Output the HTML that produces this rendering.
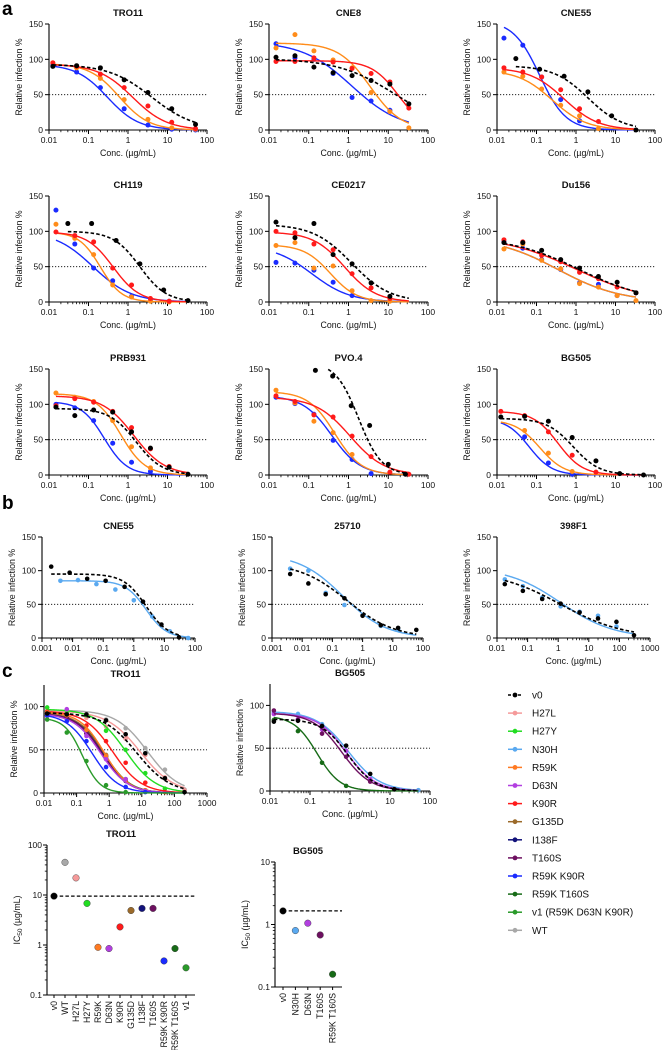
<!DOCTYPE html>
<html><head><meta charset="utf-8">
<style>
html,body{margin:0;padding:0;background:#fff;}
svg{display:block;font-family:"Liberation Sans",Arial,sans-serif;}
</style></head>
<body>
<svg id="fig" width="665" height="1050" viewBox="0 0 665 1050" xmlns="http://www.w3.org/2000/svg">
<text x="2" y="15" font-size="19" font-weight="bold">a</text>
<text x="2" y="509" font-size="19" font-weight="bold">b</text>
<text x="2" y="677" font-size="19" font-weight="bold">c</text>
</svg>
<script>
// ---------- colors ----------
const colV0="#000000",colRed="#ff1a1a",colOrange="#ff8c1a",colBlue="#1a2bff",colLtBlue="#5aa9f0";
const colWT="#a8a8a8",colH27L="#f59a9a",colH27Y="#22dd22",colR59K="#ff7a22",colD63N="#b23fe0",colK90R="#ff1a1a",colG135D="#9b6a2a",colI138F="#12127a",colT160S="#6d1060",colRKKR="#1a2bff",colRKTS="#176b17",colV1="#2a9a2a";

// ---------- panel a data ----------
const concStd=[0.015,0.045,0.135,0.41,1.23,3.7,11,33];
const tro11Conc=[0.0125,0.05,0.2,0.8,3.2,12.8,51.2];
const tro11V0=[90,91,88,71,53,30,8], tro11Red=[95,90,79,60,34,11,2], tro11Orange=[95,88,73,43,15,3,1], tro11Blue=[92,82,60,30,7,1,0];
const tro11Fits=[[93,4,0.8],[93,1.3,1],[94,0.6,1.15],[93,0.3,1.1]];
const cne8V0=[103,105,89,81,77,70,65,37], cne8Red=[97,97,102,96,87,80,68,31], cne8Orange=[116,135,112,99,88,53,26,3], cne8Blue=[122,102,100,80,46,41,28,null];
const cne8Fits=[[101,15,0.6],[98,18,1.3],[123,3.5,1.1],[125,1.2,0.7]];
const cne55V0Conc=[0.03,0.12,0.5,2,8,33];
const cne55V0=[101,86,76,54,20,0], cne55Red=[88,82,75,57,30,12,null,null], cne55Orange=[82,76,58,35,20,2,null,null], cne55Blue=[130,120,75,43,13,null,null,null];
const cne55Fits=[[91,2,1],[88,0.5,1],[85,0.25,1],[155,0.12,1.3]];
const ch119V0=[111,111,87,54,17,2], ch119Red=[99,94,85,48,24,5,1,null], ch119Orange=[110,90,67,24,7,1,0,null], ch119Blue=[130,82,48,30,8,2,1,null];
const ch119Fits=[[100,2,1.3],[99,0.42,1.3],[99,0.2,1.6],[100,0.13,0.9]];
const ce0217V0=[113,91,111,67,54,27,8,null], ce0217Red=[100,98,82,74,40,20,5,null], ce0217Orange=[80,84,48,51,16,2,1,null], ce0217Blue=[56,55,45,28,9,null,null,null];
const ce0217Fits=[[110,1.2,0.9],[99,0.8,1.1],[81,0.35,1.3],[80,0.12,0.9]];
const du156V0=[84,84,73,60,48,36,28,13], du156Red=[88,85,66,57,42,33,21,13], du156Orange=[75,82,59,47,26,21,9,2], du156Blue=[85,76,60,46,27,25,9,null];
const du156Fits=[[92,1.2,0.5],[93,1.0,0.48],[92,0.35,0.55],[92,0.35,0.55]];
const prbV0=[96,84,92,89,61,38,11,1], prbRed=[98,108,103,90,67,37,12,null], prbOrange=[116,110,104,77,40,10,null,null], prbBlue=[100,95,77,45,18,5,null,null];
const prbFits=[[94,1.6,1.3],[112,1.4,1.1],[115,0.65,1.4],[104,0.25,1.5]];
const pvoV0Conc=[0.147,0.4,1.17,3.4,10,27];
const pvoV0=[148,140,98,70,15,1], pvoRed=[112,104,85,82,55,26,4,1], pvoOrange=[120,102,76,60,29,null,null,null], pvoBlue=[110,101,86,49,22,2,null,null];
const pvoFits=[[160,1.8,1.5],[110,1.1,1.0],[118,0.45,1.3],[112,0.38,1.2]];
const bgConc=[0.0125,0.05,0.2,0.8,3.2,12.8,51.2];
const bgV0=[82,83,76,53,20,2,0], bgRed=[90,84,61,28,4,null,null], bgOrange=[null,63,31,5,null,null,null], bgBlue=[null,54,17,1,null,null,null];
const bgFits=[[80,0.85,1.3],[90,0.35,1.4],[78,0.12,1.4],[80,0.065,1.5]];

// ---------- panel b data ----------
const bCne55V0Conc=[0.002,0.008,0.03,0.12,0.5,2,8,30], bCne55V0=[106,97,88,85,76,54,20,1];
const bCne55BlueConc=[0.004,0.015,0.06,0.25,1,4,15,60], bCne55Blue=[85,86,80,72,56,32,10,0];
const bCne55Fits=[[95,2.5,1.2],[85,2.5,1.3]];
const b25710Conc=[0.004,0.016,0.06,0.25,1,4,15,60];
const b25710V0=[95,81,65,59,33,19,15,12], b25710Blue=[103,100,67,49,34,18,13,null];
const b25710Fits=[[112,0.3,0.55],[125,0.22,0.6]];
const b398Conc=[0.018,0.07,0.3,1.2,5,20,80,300];
const b398V0=[80,70,58,51,38,29,24,4], b398Blue=[87,77,60,47,39,33,17,null];
const b398Fits=[[100,1.2,0.42],[105,1.2,0.5]];

// ---------- panel c data ----------
const cTroConc=[0.0125,0.05,0.2,0.8,3.2,12.8,51.2,204.8];
const cTroWT=[95,92,91,85,75,52,27,4], cTroH27L=[92,95,87,77,63,44,18,3], cTroV0=[92,91,91,84,68,46,17,1];
const cTroH27Y=[99,92,90,72,50,23,5,null], cTroK90R=[94,90,78,60,35,12,1,null], cTroR59K=[93,90,73,43,15,3,null,null];
const cTroG135D=[90,88,72,44,16,3,null,null], cTroI138F=[90,86,69,42,14,2,null,null], cTroT160S=[92,88,69,40,14,3,null,null];
const cTroD63N=[89,97,66,39,16,2,null,null], cTroRKKR=[90,83,60,30,7,1,null,null], cTroV1=[85,70,37,9,1,null,null,null], cTroRKTS=[91,89,71,43,15,3,null,null];
const cTroFits=[[96,15,0.9],[95,9,0.85],[93,7,0.85],[97,3.2,0.95],[95,1.3,1.0],[94,0.7,1.15],[93,0.65,1.1],[92,0.62,1.1],[92,0.6,1.1],[92,0.55,1.05],[92,0.3,1.1],[87,0.15,1.6],[92,0.7,1.1]];
const cBgConc=[0.0125,0.05,0.2,0.8,3.2,12.8,51.2];
const cBgV0=[81,82,76,53,20,2,null], cBgN30H=[92,90,78,47,13,2,1], cBgD63N=[90,84,72,47,14,2,null], cBgT160S=[94,83,67,40,11,2,null], cBgRKTS=[83,70,33,6,null,null,null];
const cBgFits=[[84,0.9,1.3],[93,0.9,1.1],[91,0.8,1.2],[91,0.62,1.2],[88,0.15,1.5]];

// ---------- IC50 data ----------
const icTroLabels=["v0","WT","H27L","H27Y","R59K","D63N","K90R","G135D","I138F","T160S","R59K K90R","R59K T160S","v1"];
const icTroValues=[9.5,45,22,6.8,0.9,0.85,2.3,4.9,5.4,5.4,0.48,0.85,0.35];
const icBgLabels=["v0","N30H","D63N","T160S","R59K T160S"];
const icBgValues=[1.65,0.8,1.05,0.68,0.16];

// ---------- legend ----------
const legendLabels=["v0","H27L","H27Y","N30H","R59K","D63N","K90R","G135D","I138F","T160S","R59K K90R","R59K T160S","v1 (R59K D63N K90R)","WT"];
const legendColors=[colV0,colH27L,colH27Y,colLtBlue,colR59K,colD63N,colK90R,colG135D,colI138F,colT160S,colRKKR,colRKTS,colV1,colWT];

const NS="http://www.w3.org/2000/svg";
const svg=document.getElementById("fig");
function mk(tag,attrs,parent){const e=document.createElementNS(NS,tag);for(const k in attrs)e.setAttribute(k,attrs[k]);(parent||svg).appendChild(e);return e;}
function txt(x,y,s,size,attrs,parent){const t=mk("text",Object.assign({x:x,y:y,"font-size":size,fill:"#111"},attrs||{}),parent);t.textContent=s;return t;}
function fmtDec(p){const v=Math.pow(10,p);return p<0?v.toFixed(-p):String(Math.round(v));}

function drawPanel(o){
  const g=mk("g",{});
  
  
  const xs=c=>o.x0+(Math.log10(c)-o.lmin)/(o.lmax-o.lmin)*(o.x1-o.x0);
  const ys=v=>o.yb-v/o.ymax*(o.yb-o.yt);
  const t=txt((o.x0+o.x1)/2,o.yt-8,o.title,9.5,{"text-anchor":"middle","font-weight":"bold"},g);
  
  
  mk("line",{x1:o.x0,y1:o.yt,x2:o.x0,y2:o.yb,stroke:"#000","stroke-width":1.1},g);
  mk("line",{x1:o.x0,y1:o.yb,x2:o.x1,y2:o.yb,stroke:"#000","stroke-width":1.1},g);
  for(const v of o.yticks){const y=ys(v);mk("line",{x1:o.x0-4,y1:y,x2:o.x0,y2:y,stroke:"#000","stroke-width":1},g);
    const l=txt(o.x0-6,y+3,String(v),8.5,{"text-anchor":"end"},g);
    
    }
  for(let p=o.lmin;p<=o.lmax;p++){const x=xs(Math.pow(10,p));
    mk("line",{x1:x,y1:o.yb,x2:x,y2:o.yb+4,stroke:"#000","stroke-width":1},g);
    const l=txt(x,o.yb+13,fmtDec(p),8.5,{"text-anchor":"middle"},g);
    
    
    if(p<o.lmax)for(let m=2;m<10;m++){const xm=xs(m*Math.pow(10,p));mk("line",{x1:xm,y1:o.yb,x2:xm,y2:o.yb+2.2,stroke:"#000","stroke-width":0.8},g);}}
  const xl=txt((o.x0+o.x1)/2,o.yb+26,"Conc. (µg/mL)",8.8,{"text-anchor":"middle"},g);
  
  
  const yx=o.x0-27,yy=(o.yt+o.yb)/2;
  const yl=txt(yx,yy,"Relative infection %",8.8,{"text-anchor":"middle",transform:"rotate(-90 "+yx+" "+yy+")"},g);
  
  
  const ref=mk("line",{x1:o.x0,y1:ys(50),x2:o.x1,y2:ys(50),stroke:"#000","stroke-width":0.9,"stroke-dasharray":"1.2,1.8"},g);
  
  
  o.series.forEach(s=>{
    const sg=mk("g",{},g);
    
    
    const [top,ic,h]=s.fit;
    const c0=Math.min(...s.conc), c1=Math.max(...s.conc);
    let d="",pen=false;
    for(let i=0;i<=120;i++){const lc=Math.log10(c0)+(Math.log10(c1)-Math.log10(c0))*i/120;const c=Math.pow(10,lc);
      const v=top/(1+Math.pow(c/ic,h));
      if(v>o.ymax){pen=false;continue;}
      d+=(pen?"L":"M")+xs(c).toFixed(2)+","+ys(v).toFixed(2);pen=true;}
    const path=mk("path",{d:d,fill:"none",stroke:s.color,"stroke-width":s.dash?1.6:1.4,"stroke-dasharray":s.dash?"3.5,2.2":"none"},sg);
    
    
    s.conc.forEach((c,i)=>{const v=s.vals[i];if(v===null||v===undefined||v>o.ymax)return;
      const pt=mk("circle",{cx:xs(c),cy:ys(v),r:o.r||2.5,fill:s.color},sg);
      
      });
  });
}
function S(label,color,conc,vals,fit,dash){return {label:label,color:color,conc:conc,vals:vals,fit:fit,dash:!!dash};}
function aSeries(c0,v0,red,orange,blue,fits,cV0){
  return [S("v0",colV0,cV0||c0,v0,fits[0],true),S("red",colRed,c0,red,fits[1]),S("orange",colOrange,c0,orange,fits[2]),S("blue",colBlue,c0,blue,fits[3])].reverse();
}
const colX=[[49,207],[269,428],[497,655]];
const rowY=[[24,130],[196,302],[369,475]];
const aPanels=[
 ["TRO11",tro11Conc,tro11V0,tro11Red,tro11Orange,tro11Blue,tro11Fits,null],
 ["CNE8",concStd,cne8V0,cne8Red,cne8Orange,cne8Blue,cne8Fits,null],
 ["CNE55",concStd,cne55V0,cne55Red,cne55Orange,cne55Blue,cne55Fits,cne55V0Conc],
 ["CH119",concStd,ch119V0,ch119Red,ch119Orange,ch119Blue,ch119Fits,cne55V0Conc],
 ["CE0217",concStd,ce0217V0,ce0217Red,ce0217Orange,ce0217Blue,ce0217Fits,null],
 ["Du156",concStd,du156V0,du156Red,du156Orange,du156Blue,du156Fits,null],
 ["PRB931",concStd,prbV0,prbRed,prbOrange,prbBlue,prbFits,null],
 ["PVO.4",concStd,pvoV0,pvoRed,pvoOrange,pvoBlue,pvoFits,pvoV0Conc],
 ["BG505",bgConc,bgV0,bgRed,bgOrange,bgBlue,bgFits,null]];
aPanels.forEach((p,i)=>{const c=colX[i%3],r=rowY[Math.floor(i/3)];
  drawPanel({name:"panel-a-"+p[0].toLowerCase().replace(".",""),title:p[0],x0:c[0],x1:c[1],yt:r[0],yb:r[1],lmin:-2,lmax:2,ymax:150,yticks:[0,50,100,150],
    series:aSeries(p[1],p[2],p[3],p[4],p[5],p[6],p[7])});});

// panel b
const bY=[537,638];
drawPanel({name:"panel-b-cne55",title:"CNE55",x0:42,x1:195,yt:bY[0],yb:bY[1],lmin:-3,lmax:2,ymax:150,yticks:[0,50,100,150],r:2.3,
  series:[S("n30h",colLtBlue,bCne55BlueConc,bCne55Blue,bCne55Fits[1]),S("v0",colV0,bCne55V0Conc,bCne55V0,bCne55Fits[0],true)]});
drawPanel({name:"panel-b-25710",title:"25710",x0:272,x1:423,yt:bY[0],yb:bY[1],lmin:-3,lmax:2,ymax:150,yticks:[0,50,100,150],r:2.3,
  series:[S("n30h",colLtBlue,b25710Conc,b25710Blue,b25710Fits[1]),S("v0",colV0,b25710Conc,b25710V0,b25710Fits[0],true)]});
drawPanel({name:"panel-b-398f1",title:"398F1",x0:497,x1:650,yt:bY[0],yb:bY[1],lmin:-2,lmax:3,ymax:150,yticks:[0,50,100,150],r:2.3,
  series:[S("n30h",colLtBlue,b398Conc,b398Blue,b398Fits[1]),S("v0",colV0,b398Conc,b398V0,b398Fits[0],true)]});

// panel c curves
drawPanel({name:"panel-c-tro11",title:"TRO11",x0:44,x1:207,yt:685,yb:793,lmin:-2,lmax:3,ymax:125,yticks:[0,50,100],r:2.3,
  series:[S("wt",colWT,cTroConc,cTroWT,cTroFits[0]),S("h27l",colH27L,cTroConc,cTroH27L,cTroFits[1]),
   S("h27y",colH27Y,cTroConc,cTroH27Y,cTroFits[3]),S("k90r",colK90R,cTroConc,cTroK90R,cTroFits[4]),
   S("r59k-t160s",colRKTS,cTroConc,cTroRKTS,cTroFits[12]),S("g135d",colG135D,cTroConc,cTroG135D,cTroFits[6]),S("i138f",colI138F,cTroConc,cTroI138F,cTroFits[7]),
   S("t160s",colT160S,cTroConc,cTroT160S,cTroFits[8]),S("r59k",colR59K,cTroConc,cTroR59K,cTroFits[5]),
   S("d63n",colD63N,cTroConc,cTroD63N,cTroFits[9]),S("r59k-k90r",colRKKR,cTroConc,cTroRKKR,cTroFits[10]),
   S("v1",colV1,cTroConc,cTroV1,cTroFits[11]),S("v0",colV0,cTroConc,cTroV0,cTroFits[2],true)]});
drawPanel({name:"panel-c-bg505",title:"BG505",x0:270,x1:430,yt:684,yb:791,lmin:-2,lmax:2,ymax:125,yticks:[0,50,100],r:2.3,
  series:[S("n30h",colLtBlue,cBgConc,cBgN30H,cBgFits[1]),S("d63n",colD63N,cBgConc,cBgD63N,cBgFits[2]),
   S("t160s",colT160S,cBgConc,cBgT160S,cBgFits[3]),S("r59k-t160s",colRKTS,cBgConc,cBgRKTS,cBgFits[4]),
   S("v0",colV0,cBgConc,cBgV0,cBgFits[0],true)]});

// IC50 plots
const icColorTro=[colV0,colWT,colH27L,colH27Y,colR59K,colD63N,colK90R,colG135D,colI138F,colT160S,colRKKR,colRKTS,colV1];
const icColorBg=[colV0,colLtBlue,colD63N,colT160S,colRKTS];
function drawIC(o){
  const g=mk("g",{});
  
  
  const ys=v=>o.yb-(Math.log10(v)-o.lmin)/(o.lmax-o.lmin)*(o.yb-o.yt);
  const xs=i=>o.x0+o.first+i*o.step;
  const t=txt(o.titleX,o.yt-8,o.title,9.5,{"text-anchor":"middle","font-weight":"bold"},g);
  
  
  mk("line",{x1:o.x0,y1:o.yt,x2:o.x0,y2:o.yb,stroke:"#000","stroke-width":1.1},g);
  mk("line",{x1:o.x0,y1:o.yb,x2:o.x1,y2:o.yb,stroke:"#000","stroke-width":1.1},g);
  for(let p=o.lmin;p<=o.lmax;p++){const y=ys(Math.pow(10,p));
    mk("line",{x1:o.x0-4,y1:y,x2:o.x0,y2:y,stroke:"#000","stroke-width":1},g);
    const l=txt(o.x0-5,y+3,fmtDec(p),8.5,{"text-anchor":"end"},g);
    
    
    if(p<o.lmax)for(let m=2;m<10;m++){const ym=ys(m*Math.pow(10,p));mk("line",{x1:o.x0-2.2,y1:ym,x2:o.x0,y2:ym,stroke:"#000","stroke-width":0.8},g);}}
  const yx=o.x0-27,yy=(o.yt+o.yb)/2;
  const yl=mk("text",{x:yx,y:yy,"font-size":8.8,"text-anchor":"middle",fill:"#111",transform:"rotate(-90 "+yx+" "+yy+")"},g);
  yl.innerHTML='IC<tspan font-size="6.5" dy="2">50</tspan><tspan dy="-2"> (µg/mL)</tspan>';
  
  
  const ref=mk("line",{x1:xs(0),y1:ys(o.values[0]),x2:o.x1,y2:ys(o.values[0]),stroke:"#000","stroke-width":1.2,"stroke-dasharray":"3.5,2.2"},g);
  
  
  o.labels.forEach((lab,i)=>{const x=xs(i);
    mk("line",{x1:x,y1:o.yb,x2:x,y2:o.yb+3,stroke:"#000","stroke-width":1},g);
    const l=txt(x+3,o.yb+6,lab,8.8,{"text-anchor":"end",transform:"rotate(-90 "+(x+3)+" "+(o.yb+6)+")"},g);
    
    
    const c=mk("circle",{cx:x,cy:ys(o.values[i]),r:3.3,fill:o.colors[i],stroke:"#333","stroke-width":0.4},g);
    
    });
}
drawIC({name:"panel-c-ic50-tro11",title:"TRO11",titleX:121,x0:47,x1:195,yt:845,yb:995,lmin:-1,lmax:2,first:7,step:11,labels:icTroLabels,values:icTroValues,colors:icColorTro});
drawIC({name:"panel-c-ic50-bg505",title:"BG505",titleX:308,x0:275,x1:342,yt:862,yb:987,lmin:-1,lmax:1,first:8,step:12.4,labels:icBgLabels,values:icBgValues,colors:icColorBg});

// legend
const lg=mk("g",{});


legendLabels.forEach((lab,i)=>{const y=695+i*18.1;
  const e=mk("g",{},lg);
  
  
  mk("line",{x1:508,y1:y,x2:522,y2:y,stroke:legendColors[i],"stroke-width":1.5,"stroke-dasharray":i===0?"3,2":"none"},e);
  mk("circle",{cx:515,cy:y,r:2.4,fill:legendColors[i]},e);
  txt(532,y+3.5,lab,10,{},e);});
</script>
</body></html>
